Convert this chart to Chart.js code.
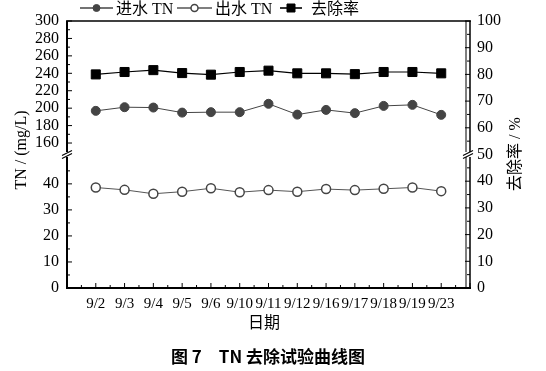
<!DOCTYPE html>
<html>
<head>
<meta charset="utf-8">
<script src="https://cdn.jsdelivr.net/npm/chart.js@4/dist/chart.umd.min.js"></script>
<style>
html, body { margin: 0; padding: 0; background: #fff; }
#chart { display: block; }
</style>
</head>
<body>
<canvas id="chart" width="546" height="371"></canvas>
<script>
'use strict';

var dates = ['9/2', '9/3', '9/4', '9/5', '9/6', '9/10', '9/11', '9/12', '9/16', '9/17', '9/18', '9/19', '9/23'];
var influentTN = [196.9, 201.1, 200.7, 194.9, 195.4, 195.4, 205.0, 192.6, 198.0, 194.3, 202.6, 203.8, 192.3];
var effluentTN = [38.6, 37.7, 36.2, 37.0, 38.3, 36.8, 37.6, 37.0, 38.0, 37.6, 38.1, 38.6, 37.2];
var removalRate = [80.0, 80.9, 81.6, 80.5, 79.9, 80.9, 81.4, 80.4, 80.4, 80.1, 80.9, 80.9, 80.4];

var leftTicks = [0, 10, 20, 30, 40, 160, 180, 200, 220, 240, 260, 280, 300];
var leftMinor = [5, 15, 25, 35, 45, 170, 190, 210, 230, 250, 270, 290];
var rightBreak = 50;

var FONT = "'Liberation Serif', 'Noto Sans CJK SC', serif";

// broken left axis: 0..~51 at the bottom, ~147..300 on top,
// both put onto a 0-100 scale shared with the right axis
function toBroken(v) {
    if (v <= 50) return v * 0.975;
    return 54.3 + (v - 160) * 0.3264;
}

function line(ctx, x0, y0, x1, y1, w) {
    ctx.lineWidth = w;
    ctx.beginPath();
    ctx.moveTo(x0, y0);
    ctx.lineTo(x1, y1);
    ctx.stroke();
}

function breakMark(ctx, x, y) {
    ctx.fillStyle = '#fff';
    ctx.fillRect(x - 3, y - 2.5, 6, 5);
    ctx.strokeStyle = '#000';
    line(ctx, x - 5, y + 1, x + 5, y - 4, 1.2);
    line(ctx, x - 5, y + 4, x + 5, y - 1, 1.2);
}

var framePlugin = {
    id: 'frame',
    afterDraw: function(chart) {
        var ctx = chart.ctx;
        var a = chart.chartArea;
        var xs = chart.scales.x, ys = chart.scales.y, ys1 = chart.scales.y1;
        ctx.save();
        ctx.strokeStyle = '#000';

        // box
        line(ctx, a.left - 1, a.top, a.right + 1, a.top, 1.5);
        line(ctx, a.left, a.top, a.left, a.bottom + 1, 2);
        line(ctx, a.left - 1, a.bottom, a.right + 1, a.bottom, 2);
        line(ctx, a.right, a.top, a.right, a.bottom + 1, 1.5);
        line(ctx, a.right - 4, a.top, a.right - 4, a.bottom, 1);

        // inward ticks, left
        leftTicks.forEach(function(v) {
            var y = ys.getPixelForValue(toBroken(v));
            line(ctx, a.left, y, a.left + 5, y, 1);
        });
        leftMinor.forEach(function(v) {
            var y = ys.getPixelForValue(toBroken(v));
            line(ctx, a.left, y, a.left + 3, y, 1);
        });
        // bottom
        for (var i = -1; i <= dates.length; i++) {
            var x = xs.getPixelForValue(i);
            line(ctx, x, a.bottom, x, a.bottom - 5, 1);
            var xm = xs.getPixelForValue(i + 0.5);
            if (i < dates.length) line(ctx, xm, a.bottom, xm, a.bottom - 3, 1);
        }
        // right
        for (var r = 0; r <= 100; r += 5) {
            var yr = ys1.getPixelForValue(r);
            line(ctx, a.right, yr, a.right - (r % 10 === 0 ? 5 : 3), yr, 1);
        }

        // axis breaks
        breakMark(ctx, a.left, ys.getPixelForValue(50));
        breakMark(ctx, a.right - 2, ys1.getPixelForValue(rightBreak));

        // axis titles
        ctx.fillStyle = '#000';
        ctx.textAlign = 'center';
        ctx.textBaseline = 'middle';
        ctx.font = '16px ' + FONT;
        ctx.save();
        ctx.translate(22, 150);
        ctx.rotate(-Math.PI / 2);
        ctx.fillText('TN / (mg/L)', 0, 0);
        ctx.restore();
        ctx.save();
        ctx.translate(516, 154);
        ctx.rotate(-Math.PI / 2);
        ctx.fillText('去除率 / %', 0, 0);
        ctx.restore();
        ctx.fillText('日期', 264, 324);

        ctx.font = "bold 17px 'Noto Sans CJK SC', sans-serif";
        ctx.fillText('图 7　TN 去除试验曲线图', 268, 357);

        // legend
        var items = [
            { x0: 80, x1: 113, tx: 116, text: '进水 TN', ds: 0 },
            { x0: 177, x1: 212, tx: 215, text: '出水 TN', ds: 1 },
            { x0: 280, x1: 302, tx: 311, text: '去除率', ds: 2 }
        ];
        var ly = 8;
        items.forEach(function(it) {
            var ds = chart.data.datasets[it.ds];
            ctx.strokeStyle = ds.borderColor;
            line(ctx, it.x0, ly, it.x1, ly, 1.6);
            var mx = (it.x0 + it.x1) / 2;
            ctx.fillStyle = ds.pointBackgroundColor;
            ctx.strokeStyle = ds.pointBorderColor;
            ctx.lineWidth = ds.pointBorderWidth;
            ctx.beginPath();
            if (ds.pointStyle === 'rect') {
                ctx.rect(mx - 4, ly - 4, 8, 8);
            } else {
                ctx.arc(mx, ly, 3.5, 0, Math.PI * 2);
            }
            ctx.fill();
            ctx.stroke();
            ctx.fillStyle = '#000';
            ctx.textAlign = 'left';
            ctx.font = '16px ' + FONT;
            ctx.fillText(it.text, it.tx, ly + 2);
        });

        ctx.restore();
    }
};

function points(arr, map) {
    return arr.map(function(v, i) { return { x: i, y: map ? map(v) : v }; });
}

new Chart(document.getElementById('chart'), {
    type: 'line',
    data: {
        datasets: [
            {
                label: '进水TN',
                data: points(influentTN, toBroken),
                yAxisID: 'y',
                borderColor: '#444',
                borderWidth: 1,
                pointStyle: 'circle',
                pointRadius: 4.5,
                pointBackgroundColor: '#444',
                pointBorderColor: '#444',
                pointBorderWidth: 1
            },
            {
                label: '出水TN',
                data: points(effluentTN, toBroken),
                yAxisID: 'y',
                borderColor: '#555',
                borderWidth: 1,
                pointStyle: 'circle',
                pointRadius: 4.5,
                pointBackgroundColor: '#fff',
                pointBorderColor: '#444',
                pointBorderWidth: 1.5
            },
            {
                label: '去除率',
                data: points(removalRate),
                yAxisID: 'y1',
                borderColor: '#000',
                borderWidth: 1.2,
                pointStyle: 'rect',
                pointRadius: 6.4,
                pointBackgroundColor: '#000',
                pointBorderColor: '#000',
                pointBorderWidth: 1
            }
        ]
    },
    options: {
        responsive: false,
        animation: false,
        layout: { padding: { top: 21, left: 0, right: 0, bottom: 0 } },
        plugins: { legend: { display: false }, tooltip: { enabled: false } },
        scales: {
            x: {
                type: 'linear',
                min: -1,
                max: dates.length,
                grid: { display: false, drawTicks: false },
                border: { display: false },
                afterBuildTicks: function(axis) {
                    axis.ticks = dates.map(function(d, i) { return { value: i }; });
                },
                ticks: {
                    autoSkip: false,
                    maxRotation: 0,
                    padding: 7,
                    color: '#000',
                    font: { family: FONT, size: 15 },
                    callback: function(v, i) { return dates[i]; }
                },
                afterFit: function(axis) { axis.height = 83; }
            },
            y: {
                position: 'left',
                min: 0,
                max: 100,
                grid: { display: false, drawTicks: false },
                border: { display: false },
                afterBuildTicks: function(axis) {
                    axis.ticks = leftTicks.map(function(v) { return { value: toBroken(v) }; });
                },
                ticks: {
                    padding: 8,
                    color: '#000',
                    font: { family: FONT, size: 16 },
                    callback: function(v, i) { return String(leftTicks[i]); }
                },
                afterFit: function(axis) { axis.width = 67; }
            },
            y1: {
                position: 'right',
                min: 0,
                max: 100,
                grid: { display: false, drawTicks: false },
                border: { display: false },
                ticks: {
                    stepSize: 10,
                    padding: 7,
                    color: '#000',
                    font: { family: FONT, size: 16 }
                },
                afterFit: function(axis) { axis.width = 76; }
            }
        }
    },
    plugins: [framePlugin]
});
</script>
</body>
</html>
